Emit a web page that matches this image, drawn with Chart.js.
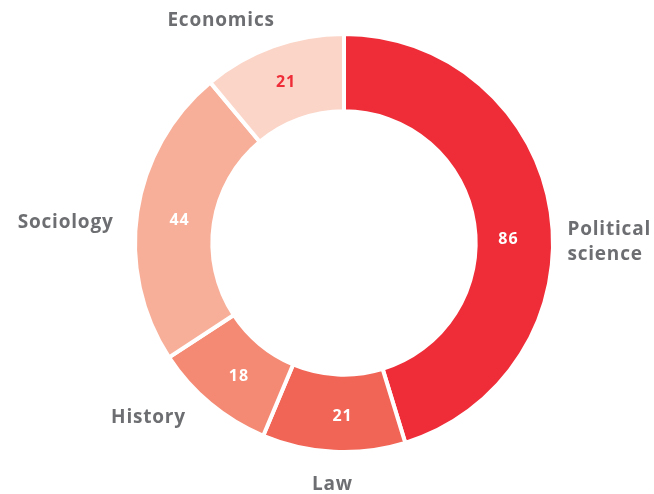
<!DOCTYPE html>
<html>
<head>
<meta charset="utf-8">
<script src="https://cdn.jsdelivr.net/npm/chart.js@4.4.1/dist/chart.umd.min.js"></script>
<style>
  html, body { margin: 0; padding: 0; background: #fff; }
</style>
</head>
<body>
<canvas id="subjectChart" width="654" height="494"></canvas>
<script>
// Data
const categories = [['Political', 'science'], ['Law'], ['History'], ['Sociology'], ['Economics']];
const values = [86, 21, 18, 44, 21];

const sliceColors = ['#EE2D38', '#F16556', '#F48A74', '#F8AF99', '#FBD5C8'];
const valueColors = ['#FFFFFF', '#FFFFFF', '#FFFFFF', '#FFFFFF', '#EE2D38'];
// small hand tweaks so labels sit where the original put them
const nameNudge = [[-7, 34], [0, 9], [-9, -4], [0, 14], [10, -3]];
const valueNudge = [[-4, 22], [7, 3], [4, 3], [4, 3], [0, 0]];

const sliceLabels = {
    id: 'sliceLabels',
    afterDatasetsDraw(chart) {
        const ctx = chart.ctx;
        const arcs = chart.getDatasetMeta(0).data;
        ctx.save();
        arcs.forEach((arc, i) => {
            const p = arc.getProps(['x', 'y', 'startAngle', 'endAngle', 'innerRadius', 'outerRadius']);
            const mid = (p.startAngle + p.endAngle) / 2;
            const cos = Math.cos(mid), sin = Math.sin(mid);

            // value inside the ring
            const rv = (p.innerRadius + p.outerRadius) / 2;
            ctx.font = 'bold 16px "Open Sans"';
            ctx.letterSpacing = '1px';
            ctx.fillStyle = valueColors[i];
            ctx.textAlign = 'center';
            ctx.textBaseline = 'middle';
            ctx.fillText(values[i], p.x + cos * rv + valueNudge[i][0], p.y + sin * rv + valueNudge[i][1]);

            // category name outside
            const rn = p.outerRadius + 24;
            const x = p.x + cos * rn + nameNudge[i][0];
            const y = p.y + sin * rn + nameNudge[i][1];
            ctx.font = 'bold 19px "Open Sans"';
            ctx.letterSpacing = '0.8px';
            ctx.fillStyle = '#6D6E71';
            ctx.textAlign = cos > 0.3 ? 'left' : (cos < -0.3 ? 'right' : 'center');
            const lines = categories[i];
            const lh = 25;
            lines.forEach((line, k) => {
                ctx.fillText(line, x, y + (k - (lines.length - 1) / 2) * lh);
            });
        });
        ctx.restore();
    }
};

const ctx = document.getElementById('subjectChart').getContext('2d');
new Chart(ctx, {
    type: 'doughnut',
    data: {
        labels: categories.map(c => c.join(' ')),
        datasets: [{
            data: values,
            backgroundColor: sliceColors,
            borderColor: '#FFFFFF',
            borderWidth: 4,
            hoverOffset: 0,
        }]
    },
    options: {
        responsive: false,
        animation: false,
        cutout: '63%',
        layout: { padding: { top: 32, bottom: 40, left: 34, right: 0 } },
        plugins: {
            legend: { display: false },
            tooltip: { enabled: false },
        }
    },
    plugins: [sliceLabels]
});
</script>
</body>
</html>
